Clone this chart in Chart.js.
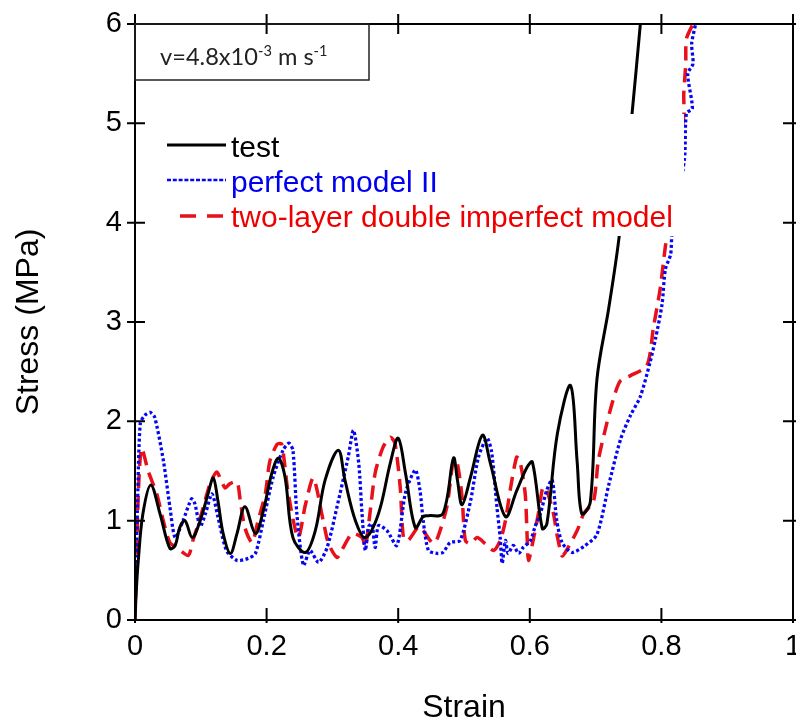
<!DOCTYPE html>
<html><head><meta charset="utf-8">
<script src="https://cdn.jsdelivr.net/npm/chart.js@4.4.0/dist/chart.umd.min.js"></script>
<style>html,body{margin:0;padding:0;background:#fff;overflow:hidden}#wrap{width:796px;height:727px;position:relative}</style>
</head><body><div id="wrap"><canvas id="c" width="796" height="727"></canvas></div>
<script>
const xTickValues = [0, 0.2, 0.4, 0.6, 0.8, 1];
const yTickValues = [0, 1, 2, 3, 4, 5, 6];
const seriesNames = ['test', 'perfect model II', 'two-layer double imperfect model'];
const xTitle = 'Strain';
const yTitle = 'Stress (MPa)';

const testStrain = [0,0.002,0.005,0.012,0.024,0.038,0.053,0.061,0.068,0.076,0.087,0.099,0.111,0.119,0.126,0.134,0.145,0.155,0.167,0.183,0.195,0.208,0.218,0.228,0.24,0.259,0.274,0.289,0.309,0.319,0.335,0.35,0.37,0.388,0.40,0.411,0.426,0.438,0.446,0.468,0.484,0.49,0.497,0.51,0.528,0.54,0.563,0.58,0.596,0.604,0.619,0.626,0.642,0.662,0.672,0.679,0.692,0.702,0.72,0.736,0.755,0.768];
const testStress = [0,0.3,0.6,1.07,1.36,1.07,0.72,0.75,0.93,1.0,0.83,1.0,1.27,1.43,1.2,0.87,0.67,0.87,1.14,0.87,1.1,1.48,1.63,1.44,0.83,0.68,0.9,1.41,1.71,1.41,1.0,0.83,1.07,1.58,1.83,1.48,0.93,1.04,1.05,1.07,1.63,1.41,1.16,1.44,1.86,1.58,1.04,1.3,1.54,1.59,0.92,0.97,1.88,2.36,1.59,1.07,1.19,2.42,3.14,3.87,5.07,6.0];

const perfectStrain = [0.001,0.004,0.008,0.015,0.023,0.03,0.043,0.053,0.061,0.073,0.086,0.091,0.099,0.107,0.117,0.126,0.139,0.155,0.172,0.183,0.195,0.21,0.225,0.234,0.24,0.246,0.256,0.266,0.279,0.292,0.307,0.324,0.332,0.34,0.345,0.35,0.355,0.36,0.365,0.37,0.383,0.398,0.411,0.426,0.433,0.438,0.446,0.459,0.468,0.479,0.494,0.51,0.522,0.535,0.542,0.55,0.555,0.558,0.563,0.567,0.575,0.583,0.59,0.601,0.608,0.616,0.626,0.634,0.641,0.649,0.664,0.682,0.702,0.72,0.738,0.753,0.768,0.783,0.791,0.801,0.806,0.814,0.816,0.835,0.838,0.847,0.840,0.848,0.846,0.852];
const perfectStress = [0.3,1.2,1.98,2.06,2.09,2.04,1.61,1.14,0.83,1.0,1.22,1.17,0.94,1.07,1.27,1.04,0.7,0.6,0.62,0.67,1.0,1.44,1.71,1.78,1.71,1.07,0.55,0.7,0.58,0.73,1.14,1.64,1.91,1.58,1.07,0.70,0.94,0.97,0.73,0.95,0.9,0.75,1.28,1.51,1.31,1.0,0.70,0.67,0.68,0.78,0.8,1.2,1.64,1.83,1.69,1.14,0.83,0.57,0.8,0.67,0.75,0.67,0.73,0.80,0.94,1.07,1.31,1.41,1.0,0.78,0.68,0.74,0.86,1.36,1.82,2.06,2.25,2.6,2.83,3.18,3.53,3.68,3.87,4.64,5.1,5.15,5.5,5.6,5.8,6.0];

const twoLayerStrain = [0,0.002,0.005,0.01,0.02,0.033,0.043,0.053,0.065,0.081,0.088,0.101,0.114,0.124,0.13,0.137,0.144,0.155,0.16,0.167,0.178,0.187,0.198,0.205,0.216,0.223,0.233,0.248,0.259,0.271,0.286,0.294,0.307,0.314,0.33,0.345,0.35,0.357,0.365,0.377,0.388,0.395,0.403,0.408,0.415,0.431,0.438,0.453,0.46,0.474,0.484,0.49,0.497,0.502,0.51,0.52,0.532,0.545,0.555,0.563,0.57,0.58,0.585,0.593,0.596,0.598,0.605,0.613,0.62,0.626,0.636,0.641,0.649,0.654,0.672,0.682,0.697,0.704,0.717,0.73,0.738,0.753,0.778,0.788,0.798,0.806,0.809,0.834,0.834,0.837,0.838,0.848];
const twoLayerStress = [0,0.5,1.27,1.73,1.5,1.27,1.0,0.78,0.72,0.65,0.8,1.07,1.37,1.49,1.42,1.33,1.37,1.39,1.2,0.93,0.78,1.0,1.27,1.6,1.77,1.77,1.27,0.83,1.16,1.43,1.0,0.77,0.63,0.7,0.87,0.83,0.73,1.07,1.48,1.74,1.84,1.78,1.34,0.83,0.8,0.94,0.9,0.77,0.83,1.14,1.61,1.57,1.24,0.8,0.77,0.83,0.77,0.70,0.8,1.0,1.3,1.64,1.6,1.27,0.83,0.6,0.8,1.07,1.34,1.3,1.07,0.87,0.645,0.68,0.9,1.07,1.2,1.6,1.98,2.29,2.41,2.46,2.56,2.95,3.33,3.76,3.87,5.07,5.3,5.6,5.85,6.0];

const COL_TEST = '#000000';
const COL_PERF = '#0505f5';
const COL_TWO = '#e8101a';
const SANS = '"Liberation Sans", Arial, sans-serif';

function pts(xs, ys) { return xs.map((x, i) => ({ x: x, y: ys[i] })); }

const styles = [
  { color: COL_TEST, width: 3, dash: [] },
  { color: COL_PERF, width: 3.3, dash: [3, 2.5] },
  { color: COL_TWO, width: 3.5, dash: [14, 8] }
];

const legendPlugin = {
  id: 'legendBox',
  afterDatasetsDraw(chart) {
    const ctx = chart.ctx;
    ctx.save();
    ctx.fillStyle = '#ffffff';
    ctx.fillRect(150, 114, 534, 122);
    const rows = [
      { y: 145, x0: 167, x1: 226, base: 156.5, s: styles[0], text: seriesNames[0], col: '#000' },
      { y: 180, x0: 167, x1: 226, base: 191.5, s: styles[1], text: seriesNames[1], col: '#0000ee' },
      { y: 216, x0: 180, x1: 224, base: 226.5, s: styles[2], text: seriesNames[2], col: '#ee0000' }
    ];
    rows.forEach((r, i) => {
      ctx.beginPath();
      ctx.strokeStyle = r.s.color;
      ctx.lineWidth = i === 1 ? 2.5 : r.s.width;
      ctx.setLineDash(i === 2 ? [16, 11] : (i === 1 ? [4, 1.8] : []));
      ctx.moveTo(r.x0, r.y);
      ctx.lineTo(r.x1, r.y);
      ctx.stroke();
      ctx.setLineDash([]);
      ctx.fillStyle = r.col;
      ctx.font = '30px ' + SANS;
      ctx.textAlign = 'left';
      ctx.textBaseline = 'alphabetic';
      ctx.fillText(r.text, 231, r.base);
    });
    ctx.restore();
  }
};

const framePlugin = {
  id: 'frameTicks',
  afterDraw(chart) {
    const ctx = chart.ctx;
    const a = chart.chartArea;
    const xs = chart.scales.x, ys = chart.scales.y;
    ctx.save();
    ctx.strokeStyle = '#000';
    ctx.lineWidth = 2;
    ctx.beginPath();
    ctx.moveTo(a.left, a.top); ctx.lineTo(a.right, a.top);
    ctx.moveTo(a.right, a.top); ctx.lineTo(a.right, a.bottom);
    ctx.moveTo(a.left, a.top); ctx.lineTo(a.left, a.bottom);
    ctx.moveTo(a.left, a.bottom); ctx.lineTo(a.right, a.bottom);
    ctx.stroke();
    ctx.beginPath();
    xTickValues.forEach(v => {
      const px = xs.getPixelForValue(v);
      ctx.moveTo(px, a.bottom - 12); ctx.lineTo(px, a.bottom + 3);
      ctx.moveTo(px, a.top - 10); ctx.lineTo(px, a.top + 10);
    });
    yTickValues.forEach(v => {
      const py = ys.getPixelForValue(v);
      ctx.moveTo(a.left - 8, py); ctx.lineTo(a.left + 10, py);
      ctx.moveTo(a.right - 10, py); ctx.lineTo(a.right + 8, py);
    });
    ctx.stroke();
    // annotation box
    ctx.lineWidth = 1.5;
    ctx.strokeStyle = '#222';
    ctx.strokeRect(a.left, a.top, 234, 56);
    ctx.fillStyle = '#222';
    ctx.textBaseline = 'alphabetic';
    ctx.textAlign = 'left';
    const fam = 'Lato, "DejaVu Sans", sans-serif';
    ctx.font = '20px ' + fam;
    const w = ctx.measureText('v=4.8x10').width;
    const fs = 20 * 98 / w;
    const sup = fs * 0.62;
    let x = 160;
    const base = 65;
    ctx.font = fs + 'px ' + fam;
    ctx.fillText('v=4.8x10', x, base); x += ctx.measureText('v=4.8x10').width;
    ctx.font = sup + 'px ' + fam;
    ctx.fillText('-3', x, base - 9); x += ctx.measureText('-3').width;
    ctx.font = fs + 'px ' + fam;
    ctx.fillText(' m s', x, base); x += ctx.measureText(' m s').width;
    ctx.font = sup + 'px ' + fam;
    ctx.fillText('-1', x, base - 9);
    ctx.restore();
  }
};

const ds = [
  { label: seriesNames[0], data: pts(testStrain, testStress), s: styles[0], tension: 0.35 },
  { label: seriesNames[1], data: pts(perfectStrain, perfectStress), s: styles[1], tension: 0.25 },
  { label: seriesNames[2], data: pts(twoLayerStrain, twoLayerStress), s: styles[2], tension: 0.25 }
].map(d => ({
  label: d.label, data: d.data, showLine: true, borderColor: d.s.color, backgroundColor: d.s.color,
  borderWidth: d.s.width, borderDash: d.s.dash, pointRadius: 0, tension: d.tension, fill: false
}));

new Chart(document.getElementById('c'), {
  type: 'scatter',
  data: { datasets: ds },
  options: {
    responsive: false, animation: false, devicePixelRatio: 1,
    layout: { padding: { top: 24, right: 3, left: 0, bottom: 0 } },
    plugins: { legend: { display: false }, tooltip: { enabled: false } },
    scales: {
      x: {
        type: 'linear', min: 0, max: 1,
        afterBuildTicks: s => { s.ticks = xTickValues.map(v => ({ value: v })); },
        afterFit: s => { s.height = 107; s.paddingLeft = 0; s.paddingRight = 0; },
        ticks: { font: { family: SANS, size: 29 }, color: '#000', padding: 10, maxRotation: 0, callback: v => String(v) },
        grid: { display: false, drawTicks: false },
        border: { display: false },
        title: { display: true, text: xTitle, font: { family: SANS, size: 32 }, color: '#000', padding: { top: 0, bottom: 0 } }
      },
      y: {
        type: 'linear', min: 0, max: 6,
        afterBuildTicks: s => { s.ticks = yTickValues.map(v => ({ value: v })); },
        afterFit: s => { s.width = 135; s.paddingTop = 0; s.paddingBottom = 0; },
        ticks: { font: { family: SANS, size: 29 }, color: '#000', padding: 13, callback: v => String(v) },
        grid: { display: false, drawTicks: false },
        border: { display: false },
        title: { display: true, text: yTitle, font: { family: SANS, size: 32 }, color: '#000', padding: { top: 10, bottom: 0 } }
      }
    }
  },
  plugins: [legendPlugin, framePlugin]
});
</script>
</body></html>
